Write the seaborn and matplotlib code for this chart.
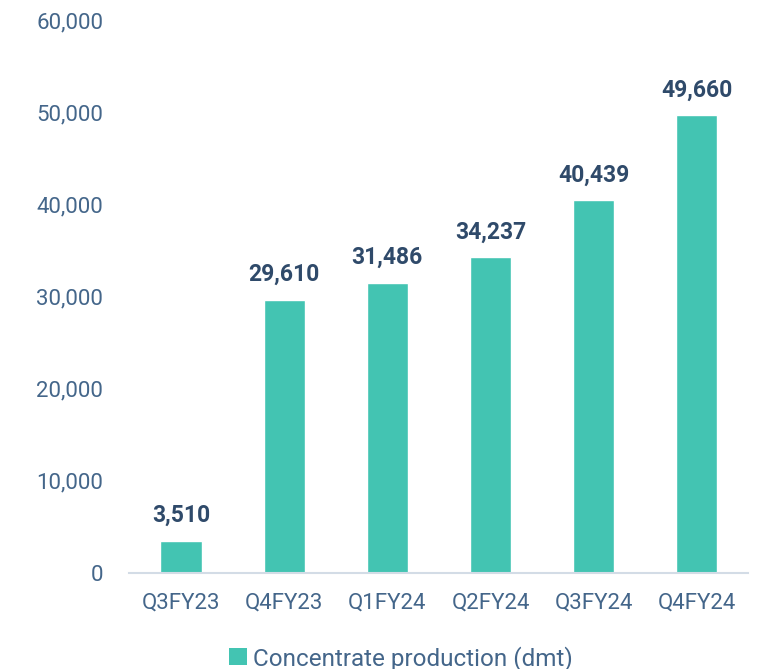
import numpy as np
import pandas as pd
import seaborn as sns
import matplotlib.pyplot as plt
from matplotlib.patches import Patch

quarters = ['Q3FY23', 'Q4FY23', 'Q1FY24', 'Q2FY24', 'Q3FY24', 'Q4FY24']
production = [3510, 29610, 31486, 34237, 40439, 49660]

bar_color = '#43C4B2'
tick_color = '#44668A'
label_color = '#2F4A6A'

sns.set_style('white')
plt.rcParams['font.family'] = ['Roboto', 'DejaVu Sans']

df = pd.DataFrame({'quarter': quarters, 'production': production})

fig = plt.figure(figsize=(7.64, 6.69), dpi=100)
ax = fig.add_axes([0.1695, 0.1435, 0.810, 0.8266])
sns.barplot(data=df, x='quarter', y='production', color=bar_color,
            width=0.4, saturation=1, ax=ax)

for i, v in enumerate(production):
    ax.text(i, v + 1500, f'{v:,}', ha='center', va='bottom',
            fontsize=16.5, fontweight='bold', color=label_color)

ax.set_ylim(0, 60000)
ax.set_yticks(np.arange(0, 60001, 10000))
ax.set_yticklabels([f'{t:,}' for t in range(0, 60001, 10000)],
                   fontsize=16, color=tick_color)
ax.tick_params(axis='x', labelsize=16, labelcolor=tick_color, pad=14, length=0)
ax.tick_params(axis='y', pad=19, length=0)
ax.set_xlabel('')
ax.set_ylabel('')
for s in ['top', 'right', 'left']:
    ax.spines[s].set_visible(False)
ax.spines['bottom'].set_color('#D3DCE6')
ax.spines['bottom'].set_linewidth(1.5)

handle = Patch(facecolor=bar_color, edgecolor='none')
leg = fig.legend([handle], ['Concentrate production (dmt)'], loc='lower center',
                 bbox_to_anchor=(0.525, -0.035), frameon=False, fontsize=17.5,
                 handlelength=0.75, handleheight=0.75, handletextpad=0.25)
for t in leg.get_texts():
    t.set_color(tick_color)

fig.savefig('out.png', dpi=100)
